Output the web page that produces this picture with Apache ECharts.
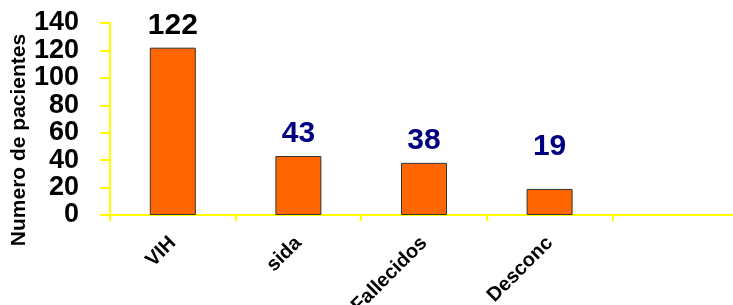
<!DOCTYPE html>
<html>
<head>
<meta charset="utf-8">
<script src="https://cdn.jsdelivr.net/npm/echarts@6/dist/echarts.min.js"></script>
<style>
  html, body { margin: 0; padding: 0; background: #fff; }
  #main { width: 733px; height: 305px; }
</style>
</head>
<body>
<div id="main"></div>
<script>
// categorias y valores
var categorias = ['VIH', 'sida', 'Fallecidos', 'Desconc', ''];
var pacientes = [122, 43, 38, 19, null];
var yTicks = [0, 20, 40, 60, 80, 100, 120, 140];

var FONT = '"Liberation Sans", Arial, sans-serif';
var colorEtiqueta = ['#000000', '#000080', '#000080', '#000080'];
var desplazEtiqueta = [0, 0, 0, -20]; // el 19 esta mas arriba en el original

var myChart = echarts.init(document.getElementById('main'));

var datos = pacientes.map(function (v, i) {
    if (v === null) return '-';
    return {
        value: v,
        label: {
            color: colorEtiqueta[i],
            offset: [0, desplazEtiqueta[i]]
        }
    };
});

var option = {
    animation: false,
    grid: {
        left: 110,
        right: -5,
        top: 23,
        bottom: 90,
        containLabel: false,
        outerBoundsMode: 'none'
    },
    xAxis: {
        type: 'category',
        data: categorias,
        axisLine: { lineStyle: { color: '#FFFF00', width: 2 } },
        axisTick: { show: true, length: 6, lineStyle: { color: '#FFFF00', width: 2 } },
        axisLabel: {
            rotate: 45,
            margin: 25,
            interval: 0,
            color: '#000',
            fontFamily: FONT,
            fontWeight: 'bold',
            fontSize: 20
        }
    },
    yAxis: {
        type: 'value',
        min: yTicks[0],
        max: yTicks[yTicks.length - 1],
        interval: 20,
        name: 'Numero de pacientes',
        nameLocation: 'middle',
        nameRotate: 90,
        nameGap: 80,
        nameMoveOverlap: false,
        nameTextStyle: {
            color: '#000',
            fontFamily: FONT,
            fontWeight: 'bold',
            fontSize: 21,
            padding: [0, 42, 0, 0]
        },
        splitLine: { show: false },
        axisLine: { show: true, lineStyle: { color: '#FFFF00', width: 2 } },
        axisTick: { show: true, length: 10, lineStyle: { color: '#FFFF00', width: 2 } },
        axisLabel: {
            margin: 31,
            color: '#000',
            fontFamily: FONT,
            fontWeight: 'bold',
            fontSize: 27,
            showMinLabel: true,
            showMaxLabel: true,
            hideOverlap: false
        }
    },
    series: [
        {
            type: 'bar',
            data: datos,
            barWidth: 46,
            itemStyle: {
                color: '#FF6600',
                borderColor: '#333',
                borderWidth: 1
            },
            label: {
                show: true,
                position: 'top',
                distance: 7,
                fontFamily: FONT,
                fontWeight: 'bold',
                fontSize: 30
            }
        }
    ]
};

myChart.setOption(option);
</script>
</body>
</html>
